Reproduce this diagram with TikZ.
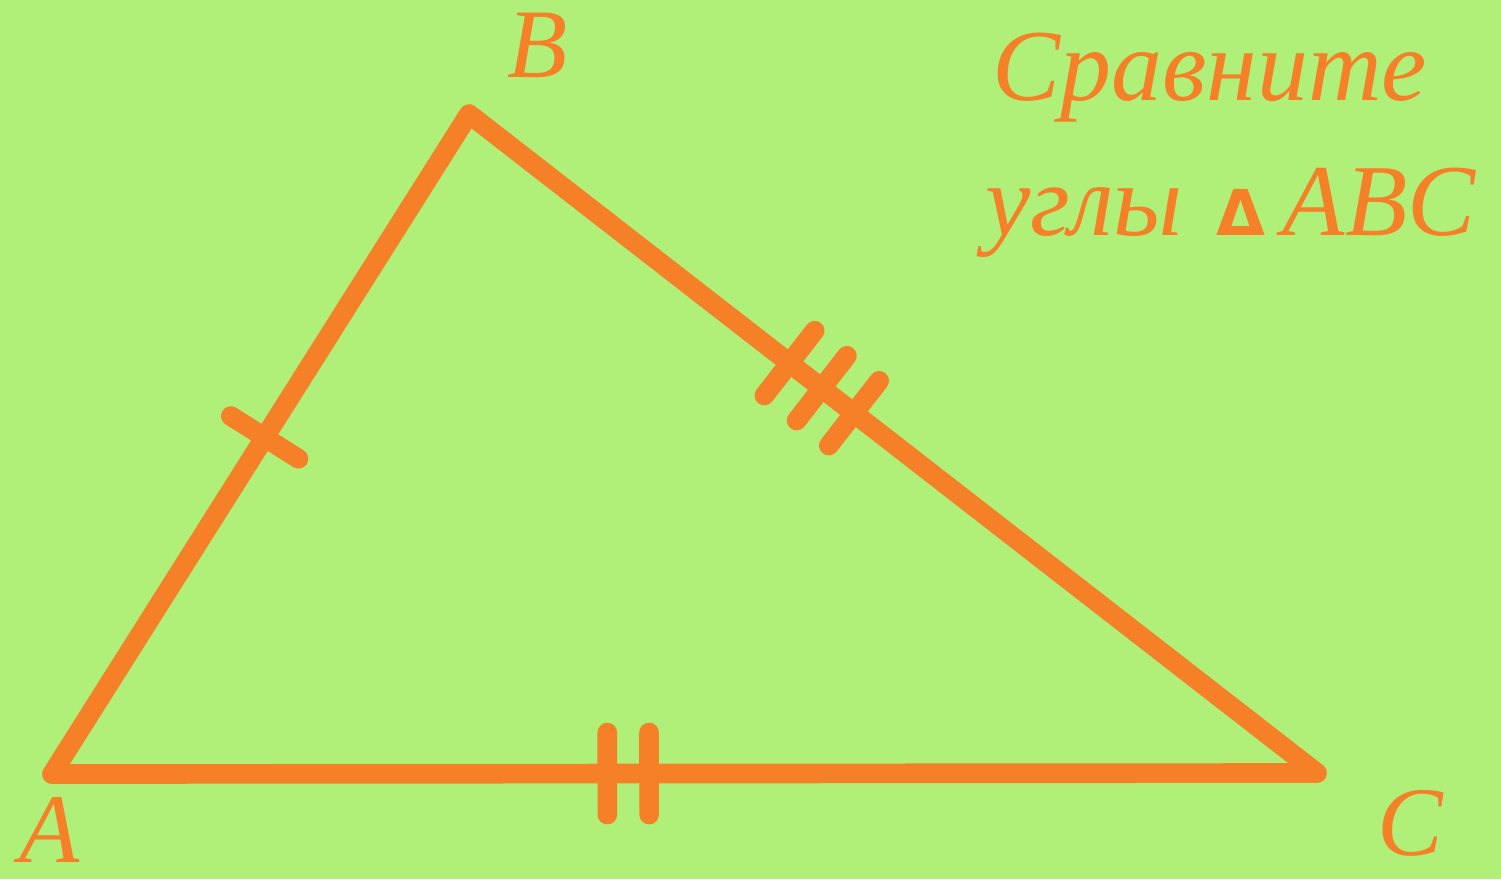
\documentclass[tikz,border=0pt]{standalone}
\usepackage{fontspec}
\setmainfont{Liberation Serif}
\newfontfamily\tri{DejaVu Sans}
\usetikzlibrary{calc}
\definecolor{bg}{RGB}{176,240,120}
\definecolor{org}{RGB}{245,128,40}
\begin{document}
\begin{tikzpicture}[
  edge/.style={draw=org, line width=5.6pt, line cap=round, line join=round},
  vlabel/.style={text=org, font=\itshape\fontsize{28}{32}\selectfont, inner sep=0pt, anchor=base},
  title/.style={text=org, font=\itshape\fontsize{29}{36}\selectfont, inner sep=0pt, anchor=base west}
]
\path[fill=bg,use as bounding box] (0,0) rectangle (15.01,8.79);
\coordinate (A) at (0.52,1.05);
\coordinate (B) at (4.69,7.65);
\coordinate (C) at (13.17,1.06);
\draw[edge] (A) -- (B) -- (C) -- cycle;
% single tick on AB
\coordinate (t1) at ($(A)!0.51!(B)$);
\draw[edge] ($(t1)!0.40cm!90:(B)$) -- ($(t1)!0.40cm!-90:(B)$);
% triple ticks on BC
\foreach \p/\n in {0.378/a,0.416/b,0.454/c}{
  \coordinate (s\n) at ($(B)!\p!(C)$);
  \draw[edge] ($(s\n)!0.41cm!90:(C)$) -- ($(s\n)!0.41cm!-90:(C)$);
}
% double ticks on AC
\foreach \p/\n in {0.439/a,0.472/b}{
  \coordinate (d\n) at ($(A)!\p!(C)$);
  \draw[edge] ($(d\n)!0.41cm!90:(C)$) -- ($(d\n)!0.41cm!-90:(C)$);
}
\node[vlabel] (la) at (0.50,0.17) {A};
\node[vlabel] (lb) at (5.38,8.02) {B};
\node[vlabel] (lc) at (14.10,0.24) {C};
\node[title] (t1l) at (9.92,7.79) {Сравните};
\node[title] (t2l) at (9.85,6.44) {углы\,\,{\tri\upshape\bfseries\fontsize{18}{20}\selectfont Δ}\,ABC};
\end{tikzpicture}
\end{document}
